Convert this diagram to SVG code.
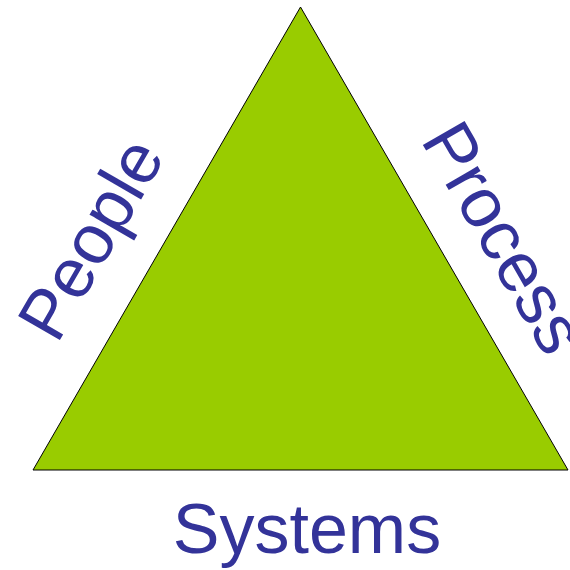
<svg xmlns="http://www.w3.org/2000/svg" width="570" height="570" viewBox="0 0 570 570">
  <style>
    .label { font-family: "Liberation Sans", Arial, sans-serif; font-size: 70px; fill: #333399; }
  </style>
  <rect width="570" height="570" fill="#ffffff"/>
  <g id="triangle">
    <polygon points="300.5,7 33,470 568,470" fill="#99CC00" stroke="#000000" stroke-width="1"/>
  </g>
  <g id="people">
    <text class="label" transform="translate(57,345) rotate(-60)">People</text>
  </g>
  <g id="process">
    <text class="label" transform="translate(420,140) rotate(60)">Process</text>
  </g>
  <g id="systems">
    <text class="label" x="307" y="553" text-anchor="middle">Systems</text>
  </g>
</svg>
